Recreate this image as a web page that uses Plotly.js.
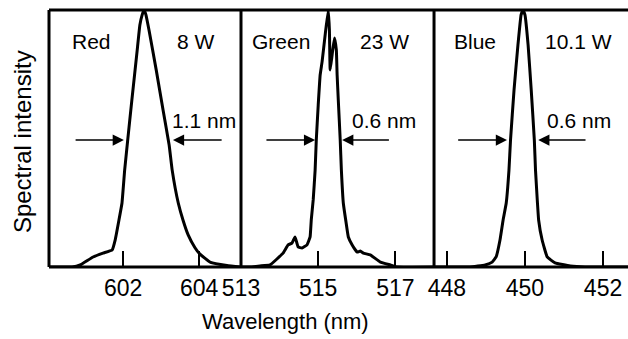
<!DOCTYPE html>
<html>
<head>
<meta charset="utf-8">
<script src="https://cdn.plot.ly/plotly-3.0.1.min.js"></script>
<style>html,body{margin:0;padding:0;background:#fff;}#chart{width:628px;height:339px;}</style>
</head>
<body>
<div id="chart"></div>
<script>
// ---- Data ----
var redWavelength = [600.05, 600.66, 600.87, 601.21, 601.47, 601.71, 601.79, 601.89, 601.97, 602.04, 602.12, 602.23, 602.37, 602.44, 602.50, 602.55, 602.60, 602.68, 602.87, 603.05, 603.21, 603.29, 603.45, 603.58, 603.71, 603.89, 604.02, 604.30, 604.73, 605.10];
var redIntensity  = [0, 0, 0.008, 0.039, 0.054, 0.066, 0.105, 0.183, 0.249, 0.377, 0.494, 0.650, 0.844, 0.942, 0.981, 1.0, 0.981, 0.922, 0.767, 0.611, 0.475, 0.377, 0.249, 0.180, 0.125, 0.075, 0.050, 0.018, 0.006, 0];

var greenWavelength = [513.0, 513.23, 513.49, 513.75, 514.09, 514.22, 514.32, 514.40, 514.48, 514.58, 514.71, 514.79, 514.82, 514.87, 514.92, 514.95, 515.00, 515.05, 515.10, 515.18, 515.26, 515.29, 515.31, 515.36, 515.42, 515.47, 515.49, 515.52, 515.57, 515.60, 515.65, 515.72, 515.78, 515.88, 516.01, 516.09, 516.17, 516.35, 516.61, 516.87, 517.05, 518.0];
var greenIntensity  = [0, 0, 0.004, 0.008, 0.054, 0.086, 0.093, 0.117, 0.078, 0.074, 0.086, 0.117, 0.183, 0.261, 0.377, 0.494, 0.630, 0.747, 0.798, 0.903, 1.0, 0.922, 0.767, 0.825, 0.891, 0.844, 0.747, 0.650, 0.494, 0.377, 0.249, 0.175, 0.117, 0.086, 0.058, 0.062, 0.054, 0.047, 0.019, 0.008, 0, 0];

var blueWavelength = [447.67, 448.59, 448.98, 449.16, 449.26, 449.36, 449.44, 449.52, 449.59, 449.63, 449.72, 449.82, 449.90, 449.95, 450.00, 450.08, 450.16, 450.24, 450.27, 450.32, 450.35, 450.44, 450.57, 450.77, 451.16, 451.54, 452.64];
var blueIntensity  = [0, 0, 0.008, 0.019, 0.039, 0.105, 0.183, 0.249, 0.377, 0.494, 0.689, 0.864, 0.981, 1.0, 0.981, 0.864, 0.689, 0.494, 0.377, 0.249, 0.183, 0.105, 0.039, 0.016, 0.004, 0, 0];

var redTicks = [602, 604];
var greenTicks = [513, 515, 517];
var blueTicks = [448, 450, 452];

var panelLabels = ["Red", "Green", "Blue"];
var panelPowers = ["8 W", "23 W", "10.1 W"];
var panelWidths = ["1.1 nm", "0.6 nm", "0.6 nm"];

// ---- Layout ----
var FONT = "Liberation Sans, Arial, Helvetica, sans-serif";
var lineStyle = {color: "#000", width: 3, shape: "spline", smoothing: 0.3};

var traces = [
  {x: redWavelength, y: redIntensity, xaxis: "x", yaxis: "y", mode: "lines", line: lineStyle, hoverinfo: "skip"},
  {x: greenWavelength, y: greenIntensity, xaxis: "x2", yaxis: "y", mode: "lines", line: lineStyle, hoverinfo: "skip"},
  {x: blueWavelength, y: blueIntensity, xaxis: "x3", yaxis: "y", mode: "lines", line: lineStyle, hoverinfo: "skip"}
];

var d1 = 0.3316, d2 = 0.665;
function xax(domain, range, ticks) {
  return {
    domain: domain, range: range, anchor: "y",
    tickmode: "array", tickvals: ticks, ticktext: ticks.map(String),
    ticks: "inside", ticklen: 16, tickwidth: 2, tickcolor: "#000",
    ticklabelstandoff: 5,
    showgrid: false, zeroline: false, showline: false,
    tickfont: {family: FONT, size: 23, color: "#000"},
    fixedrange: true
  };
}

function textAnn(xref, x, y, text) {
  return {xref: xref, yref: "y", x: x, y: y, text: text, showarrow: false,
          xanchor: "left", yanchor: "middle",
          font: {family: FONT, size: 21, color: "#000"}};
}
function arrowAnn(xref, xTip, xTail, y) {
  return {xref: xref, yref: "y", x: xTip, y: y, axref: xref, ayref: "y", ax: xTail, ay: y,
          text: "", showarrow: true, arrowhead: 2, arrowsize: 1.4, arrowwidth: 1.6,
          arrowcolor: "#000", standoff: 0, startstandoff: 0};
}

var annotations = [
  textAnn("x", 600.60, 0.877, panelLabels[0]),
  textAnn("x", 603.37, 0.877, panelPowers[0]),
  textAnn("x", 603.23, 0.572, panelWidths[0]),
  arrowAnn("x", 602.02, 600.71, 0.494),
  arrowAnn("x", 603.31, 604.63, 0.494),

  textAnn("x2", 513.23, 0.877, panelLabels[1]),
  textAnn("x2", 516.04, 0.877, panelPowers[1]),
  textAnn("x2", 515.83, 0.572, panelWidths[1]),
  arrowAnn("x2", 514.92, 513.62, 0.494),
  arrowAnn("x2", 515.62, 516.87, 0.494),

  textAnn("x3", 448.13, 0.877, panelLabels[2]),
  textAnn("x3", 450.46, 0.877, panelPowers[2]),
  textAnn("x3", 450.52, 0.572, panelWidths[2]),
  arrowAnn("x3", 449.54, 448.25, 0.494),
  arrowAnn("x3", 450.34, 451.59, 0.494),

  {xref: "paper", yref: "paper", x: -0.0466, y: 0.486, text: "Spectral intensity", textangle: -90,
   showarrow: false, xanchor: "center", yanchor: "middle", font: {family: FONT, size: 24, color: "#000"}},
  {xref: "paper", yref: "paper", x: 0.4076, y: -0.214, text: "Wavelength (nm)",
   showarrow: false, xanchor: "center", yanchor: "middle", font: {family: FONT, size: 22, color: "#000"}}
];

var border = {color: "#000", width: 3};
var shapes = [
  {type: "line", xref: "paper", yref: "paper", x0: 0, x1: 1, y0: 1, y1: 1, line: border},
  {type: "line", xref: "paper", yref: "paper", x0: 0, x1: 1, y0: 0, y1: 0, line: border},
  {type: "line", xref: "paper", yref: "paper", x0: 0, x1: 0, y0: 0, y1: 1, line: border},
  {type: "line", xref: "paper", yref: "paper", x0: d1, x1: d1, y0: 0, y1: 1, line: border},
  {type: "line", xref: "paper", yref: "paper", x0: d2, x1: d2, y0: 0, y1: 1, line: border}
];

var layout = {
  width: 628, height: 339,
  margin: {l: 49, r: 0, t: 10, b: 72},
  paper_bgcolor: "#fff", plot_bgcolor: "#fff",
  showlegend: false,
  font: {family: FONT, color: "#000"},
  xaxis: xax([0, d1], [600.05, 605.1], redTicks),
  xaxis2: xax([d1, d2], [513, 518], greenTicks),
  xaxis3: xax([d2, 1], [447.67, 452.64], blueTicks),
  yaxis: {range: [0, 1.0], showticklabels: false, ticks: "", showgrid: false, zeroline: false, showline: false, fixedrange: true},
  annotations: annotations,
  shapes: shapes
};

Plotly.newPlot("chart", traces, layout, {displayModeBar: false, staticPlot: true});
</script>
</body>
</html>
